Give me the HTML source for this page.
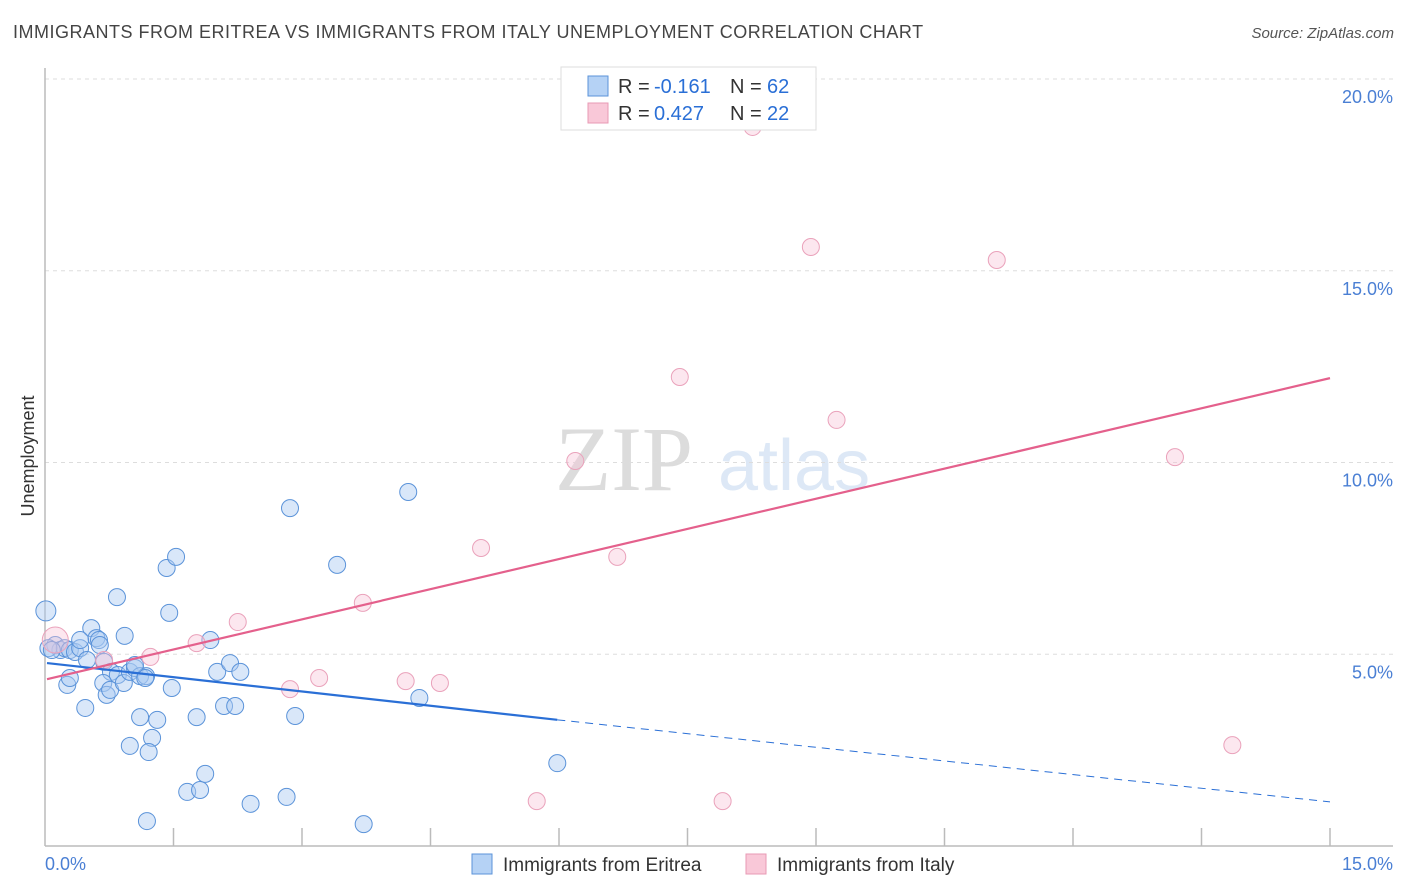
<!DOCTYPE html>
<html><head><meta charset="utf-8">
<style>
body{margin:0;background:#fff;font-family:"Liberation Sans",sans-serif;}
#wrap{position:relative;width:1406px;height:892px;overflow:hidden;}
.t{position:absolute;white-space:nowrap;}
</style></head><body>
<div id="wrap">
<div class="t" style="left:13px;top:22px;font-size:18px;color:#444;letter-spacing:0.5px">IMMIGRANTS FROM ERITREA VS IMMIGRANTS FROM ITALY UNEMPLOYMENT CORRELATION CHART</div>
<div class="t" style="right:12px;top:25px;font-size:15px;color:#555;font-style:italic">Source: ZipAtlas.com</div>
<svg id="svg" width="1406" height="892" style="position:absolute;left:0;top:0"></svg>
</div>
<script>
const xTickVals=[0,15];
const yTickVals=[5,10,15,20];
const eritreaX=[0.01,0.12,0.18,0.23,0.29,0.35,0.41,0.54,0.60,0.63,0.41,0.49,0.69,0.77,0.85,0.26,0.29,0.47,0.68,0.72,0.76,0.84,0.93,0.92,0.99,1.05,1.11,1.18,1.17,1.05,1.42,1.53,1.45,1.48,1.11,1.31,1.25,0.99,1.21,1.77,1.66,1.81,1.87,1.19,1.93,2.01,2.16,2.09,2.22,2.28,2.40,2.82,2.86,2.92,3.41,3.72,4.24,4.37,5.98,0.04,0.08,0.64];
const eritreaY=[6.13,5.24,5.11,5.16,5.11,5.06,5.16,5.68,5.42,5.37,5.37,4.85,4.80,4.54,4.46,4.20,4.38,3.60,4.25,3.94,4.07,6.49,5.48,4.25,4.54,4.64,4.43,4.43,4.38,4.72,7.25,7.54,6.08,4.12,3.36,3.29,2.82,2.61,2.45,3.36,1.41,1.46,1.88,0.65,5.37,4.54,4.77,3.65,3.65,4.54,1.10,1.28,8.81,3.39,7.33,0.57,9.23,3.86,2.16,5.16,5.11,5.24];
const italyX=[0.12,0.69,1.23,1.77,2.25,2.86,3.20,3.71,4.21,4.61,5.09,5.74,6.19,6.68,7.41,7.91,8.26,8.94,9.24,11.11,13.19,13.86];
const italyY=[5.37,4.85,4.93,5.29,5.84,4.09,4.38,6.34,4.30,4.25,7.77,1.17,10.04,7.54,12.23,1.17,18.75,15.62,11.11,15.28,10.14,2.63];
const eritreaTrend=[4.77,3.29,1.15];
const eritreaTrendX=[0,5.98,15];
const italyTrend=[4.35,12.20];
const italyTrendX=[0,15];

const X0=45,X1=1330,Y0=846,Y20=79;
const sx=v=>X0+(X1-X0)*v/15;
const sy=v=>Y0-(Y0-Y20)*v/20;
const svg=document.getElementById('svg');
const NS='http://www.w3.org/2000/svg';
function mk(tag,attrs){const e=document.createElementNS(NS,tag);for(const k in attrs)e.setAttribute(k,attrs[k]);svg.appendChild(e);return e;}

let w1=mk('text',{x:555,y:490,'font-size':92,'font-family':'Liberation Serif,serif',fill:'#dcdcdc'});w1.textContent='ZIP';


let w2=mk('text',{x:718,y:490,'font-size':72,'font-family':'Liberation Sans,sans-serif',fill:'#dde8f6'});w2.textContent='atlas';



yTickVals.forEach(v=>{
  const g=mk('line',{x1:X0,x2:1393,y1:sy(v),y2:sy(v),stroke:'#ddd','stroke-dasharray':'4,4'});
  
  
  const t=mk('text',{x:1393,y:sy(v)+24,'text-anchor':'end','font-size':18,fill:'#4a7fd4'});
  t.textContent=v.toFixed(1)+'%';
  
  
});
let ya=mk('line',{x1:X0,x2:X0,y1:68,y2:Y0,stroke:'#bbb','stroke-width':1.5});


let xa=mk('line',{x1:X0,x2:1393,y1:Y0,y2:Y0,stroke:'#bbb','stroke-width':1.5});


for(let i=1;i<=10;i++){
  const tk=mk('line',{x1:sx(i*1.5),x2:sx(i*1.5),y1:828,y2:Y0,stroke:'#bbb','stroke-width':1.5});
  
  
}
xTickVals.forEach((v,i)=>{
  const t=mk('text',{x:i==0?45:1393,y:870,'text-anchor':i==0?'start':'end','font-size':18,fill:'#4a7fd4'});
  t.textContent=v.toFixed(1)+'%';
  
  
});
let yt=mk('text',{x:34,y:456,'text-anchor':'middle','font-size':18,fill:'#333',transform:'rotate(-90 34 456)'});
yt.textContent='Unemployment';



eritreaX.forEach((x,i)=>{
  const c=mk('circle',{cx:sx(x),cy:sy(eritreaY[i]),r:i==0?10:8.5,fill:'rgba(170,202,242,0.45)',stroke:'#5b93d9','stroke-width':1});
  
  
});
italyX.forEach((x,i)=>{
  const c=mk('circle',{cx:sx(x),cy:sy(italyY[i]),r:i==0?13:8.5,fill:'rgba(248,195,214,0.4)',stroke:'#eaa2bb','stroke-width':1});
  
  
});
let bl=mk('line',{x1:sx(eritreaTrendX[0])+2,y1:sy(eritreaTrend[0]),x2:sx(eritreaTrendX[1]),y2:sy(eritreaTrend[1]),stroke:'#2a6fd6','stroke-width':2.2});


let bd=mk('line',{x1:sx(eritreaTrendX[1]),y1:sy(eritreaTrend[1]),x2:sx(eritreaTrendX[2]),y2:sy(eritreaTrend[2]),stroke:'#2a6fd6','stroke-width':1,'stroke-dasharray':'8,6'});


let pl=mk('line',{x1:sx(italyTrendX[0])+2,y1:sy(italyTrend[0]),x2:sx(italyTrendX[1]),y2:sy(italyTrend[1]),stroke:'#e4608c','stroke-width':2.2});



let lb=mk('rect',{x:561,y:67,width:255,height:63,fill:'#fff',stroke:'#ddd'});


[['#b5d2f5','#5b93d9','-0.161','62',86,654],['#f9c8d8','#e89ab4','0.427','22',113,654]].forEach(r=>{
  const s=mk('rect',{x:588,y:r[4]-10,width:20,height:20,fill:r[0],stroke:r[1]});
  
  
  const a=mk('text',{x:618,y:r[4]+7,'font-size':20,fill:'#333'});a.textContent='R =';
  
  
  const b=mk('text',{x:r[5],y:r[4]+7,'font-size':20,fill:'#2a6fd6'});b.textContent=r[2];
  
  
  const c=mk('text',{x:730,y:r[4]+7,'font-size':20,fill:'#333'});c.textContent='N =';
  
  
  const d=mk('text',{x:767,y:r[4]+7,'font-size':20,fill:'#2a6fd6'});d.textContent=r[3];
  
  
});
[['#b5d2f5','#5b93d9','Immigrants from Eritrea',472],['#f9c8d8','#e89ab4','Immigrants from Italy',746]].forEach(r=>{
  const s=mk('rect',{x:r[3],y:854,width:20,height:20,fill:r[0],stroke:r[1]});
  
  
  const t=mk('text',{x:r[3]+31,y:871,'font-size':19,fill:'#333'});
  t.textContent=r[2];
  
  
});
</script>
</body></html>
